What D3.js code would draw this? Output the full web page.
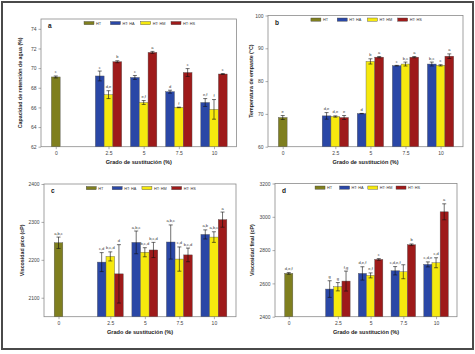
<!DOCTYPE html>
<html><head><meta charset="utf-8">
<script src="https://cdn.jsdelivr.net/npm/d3@7"></script>
<style>
html,body{margin:0;padding:0;background:#fff;}
svg{display:block;}
text{font-family:"Liberation Sans",Arial,sans-serif;}
</style></head>
<body><svg id="chart" width="475" height="354"></svg>
<script>
// ---- data ----
const groups = ["0", "2.5", "5", "7.5", "10"];
const seriesNames = ["HT", "HT: HA", "HT: HM", "HT: HS"];
const seriesColors = ["#7f7f1f", "#2a47a6", "#f6e90e", "#9e1a1a"];
const xTitle = "Grado de sustitución (%)";

// panel a: Capacidad de retención de agua (%)
const aTitle = "Capacidad de retención de agua (%)";
const aTicks = [62, 64, 66, 68, 70, 72, 74];
const aHT = [69.1], aHTErr = [0.1], aHTLet = ["c"];
const aHA = [69.2, 69.05, 67.6, 66.5], aHAErr = [0.5, 0.2, 0.15, 0.4], aHALet = ["c", "c", "d", "e,f"];
const aHM = [67.3, 66.5, 66.0, 65.8], aHMErr = [0.4, 0.2, 0.03, 1.0], aHMLet = ["d,e", "e,f", "f", "f"];
const aHS = [70.65, 71.6, 69.55, 69.4], aHSErr = [0.1, 0.1, 0.4, 0.05], aHSLet = ["b", "a", "c", "c"];

// panel b: Temperatura de empaste (°C)
const bTitle = "Temperatura de empaste (°C)";
const bTicks = [60, 70, 80, 90, 100];
const bHT = [68.9], bHTErr = [0.6], bHTLet = ["e"];
const bHA = [69.4, 70.1, 84.7, 85.2], bHAErr = [1.0, 0.05, 0.1, 0.6], bHALet = ["d,e", "d", "c", "b,c"];
const bHM = [69.2, 86.0, 85.2, 84.8], bHMErr = [0.2, 0.8, 0.6, 0.2], bHMLet = ["d,e", "b", "b,c", "c"];
const bHS = [68.9, 87.3, 87.3, 87.6], bHSErr = [0.6, 0.2, 0.2, 0.7], bHSLet = ["e", "a", "a", "a"];

// panel c: Viscosidad pico (cP)
const cTitle = "Viscosidad pico (cP)";
const cTicks = [2100, 2200, 2300, 2400];
const cHT = [2245], cHTErr = [15], cHTLet = ["a,b,c"];
const cHA = [2194, 2246, 2247, 2267], cHAErr = [25, 30, 45, 12], cHALet = ["c,d", "a,b,c", "a,b,c", "a,b"];
const cHM = [2209, 2220, 2202, 2260], cHMErr = [12, 12, 32, 14], cHMLet = ["b,c,d", "b,c,d", "c,d", "a,b,c"];
const cHS = [2163, 2226, 2213, 2306], cHSErr = [77, 20, 18, 20], cHSLet = ["d", "b,c,d", "b,c,d", "a"];

// panel d: Viscosidad final (cP)
const dTitle = "Viscosidad final (cP)";
const dTicks = [2400, 2600, 2800, 3000, 3200];
const dHT = [2660], dHTErr = [5], dHTLet = ["d,e,f"];
const dHA = [2566, 2660, 2676, 2714], dHAErr = [50, 40, 25, 15], dHALet = ["g", "d,e,f", "c,d,e,f", "c,d,e"];
const dHM = [2580, 2648, 2670, 2724], dHMErr = [25, 15, 42, 30], dHMLet = ["g", "e,f", "", "c,d"];
const dHS = [2614, 2744, 2832, 3030], dHSErr = [60, 5, 5, 48], dHSLet = ["f,g", "c", "b", "a"];

// ---- layout (positions only) ----
const panels = [
  {tag: "a", title: aTitle, ticks: aTicks, dom: [62, 75], box: [41, 19, 236.5, 146.7], ytx: 22,
   ht: [aHT, aHTErr, aHTLet], s: [[aHA, aHAErr, aHALet], [aHM, aHMErr, aHMLet], [aHS, aHSErr, aHSLet]]},
  {tag: "b", title: bTitle, ticks: bTicks, dom: [60, 100], box: [268, 15.5, 463, 146.7], ytx: 253,
   ht: [bHT, bHTErr, bHTLet], s: [[bHA, bHAErr, bHALet], [bHM, bHMErr, bHMLet], [bHS, bHSErr, bHSLet]]},
  {tag: "c", title: cTitle, ticks: cTicks, dom: [2050, 2400], box: [44, 184, 236, 316.7], ytx: 24,
   ht: [cHT, cHTErr, cHTLet], s: [[cHA, cHAErr, cHALet], [cHM, cHMErr, cHMLet], [cHS, cHSErr, cHSLet]]},
  {tag: "d", title: dTitle, ticks: dTicks, dom: [2400, 3200], box: [275, 183.5, 457, 316.7], ytx: 254,
   ht: [dHT, dHTErr, dHTLet], s: [[dHA, dHAErr, dHALet], [dHM, dHMErr, dHMLet], [dHS, dHSErr, dHSLet]]}
];
const groupPos = [0, 1.5, 2.5, 3.5, 4.5];
const barW = 0.25;

const svg = d3.select("#chart");
svg.append("rect").attr("x", 0).attr("y", 0).attr("width", 475).attr("height", 354).attr("fill", "#fff");
svg.append("rect").attr("x", 2).attr("y", 2).attr("width", 471).attr("height", 347)
  .attr("fill", "none").attr("stroke", "#4a4a4a").attr("stroke-width", 2);

panels.forEach(p => {
  const [x0, y0, x1, y1] = p.box;
  const x = d3.scaleLinear().domain([-0.42, 5.14]).range([x0, x1]);
  const y = d3.scaleLinear().domain(p.dom).range([y1, y0]);
  const g = svg.append("g");
  g.append("rect").attr("x", x0).attr("y", y0).attr("width", x1 - x0).attr("height", y1 - y0)
    .attr("fill", "#fff").attr("stroke", "#8a8a8a").attr("stroke-width", 0.8);

  // bars data
  const bars = [];
  bars.push({cx: x(groupPos[0]), v: p.ht[0][0], e: p.ht[1][0], l: p.ht[2][0], c: seriesColors[0]});
  for (let gi = 0; gi < 4; gi++) {
    for (let si = 0; si < 3; si++) {
      const off = (si - 1) * barW;
      bars.push({u: groupPos[gi + 1] + off, v: p.s[si][0][gi], e: p.s[si][1][gi], l: p.s[si][2][gi], c: seriesColors[si + 1]});
    }
  }
  bars.forEach(b => { if (b.u !== undefined) b.cx = x(b.u); });
  const bw = x(barW) - x(0);
  const base = p.dom[0];
  g.selectAll("rect.bar").data(bars).join("rect").attr("class", "bar")
    .attr("x", d => d.cx - bw / 2).attr("width", bw)
    .attr("y", d => y(d.v)).attr("height", d => y(base) - y(d.v))
    .attr("fill", d => d.c).attr("stroke", "#555").attr("stroke-width", 0.4);
  // error bars
  const eb = g.selectAll("g.eb").data(bars).join("g").attr("class", "eb")
    .attr("stroke", "#111").attr("stroke-width", 0.6);
  eb.append("line").attr("x1", d => d.cx).attr("x2", d => d.cx)
    .attr("y1", d => y(d.v - d.e)).attr("y2", d => y(d.v + d.e));
  eb.append("line").attr("x1", d => d.cx - 2).attr("x2", d => d.cx + 2)
    .attr("y1", d => y(d.v + d.e)).attr("y2", d => y(d.v + d.e));
  eb.append("line").attr("x1", d => d.cx - 2).attr("x2", d => d.cx + 2)
    .attr("y1", d => y(d.v - d.e)).attr("y2", d => y(d.v - d.e));
  g.selectAll("text.let").data(bars).join("text").attr("class", "let")
    .attr("x", d => d.cx).attr("y", d => y(d.v + d.e) - 2.5)
    .attr("text-anchor", "middle").attr("font-size", 4).attr("fill", "#333").text(d => d.l);

  // y axis
  const ya = d3.axisLeft(y).tickValues(p.ticks).tickSize(2.5).tickPadding(2).tickFormat(d3.format("d"));
  const yg = g.append("g").attr("transform", `translate(${x0},0)`).call(ya);
  yg.select(".domain").remove();
  yg.selectAll("line").attr("stroke", "#777").attr("stroke-width", 0.6);
  yg.selectAll("text").attr("font-size", 5).attr("fill", "#444").attr("font-family", "Liberation Sans, Arial, sans-serif");
  // x axis
  const xa = d3.axisBottom(x).tickValues(groupPos).tickSize(2.5).tickPadding(2).tickFormat((d, i) => groups[i]);
  const xg = g.append("g").attr("transform", `translate(0,${y1})`).call(xa);
  xg.select(".domain").remove();
  xg.selectAll("line").attr("stroke", "#777").attr("stroke-width", 0.6);
  xg.selectAll("text").attr("font-size", 5).attr("fill", "#444").attr("font-family", "Liberation Sans, Arial, sans-serif");

  // titles
  g.append("text").attr("x", (x0 + x1) / 2).attr("y", y1 + 17).attr("text-anchor", "middle")
    .attr("font-size", 5.6).attr("font-weight", "bold").attr("fill", "#222").text(xTitle);
  g.append("text").attr("transform", `translate(${p.ytx},${(y0 + y1) / 2}) rotate(-90)`)
    .attr("text-anchor", "middle").attr("font-size", 5.3).attr("font-weight", "bold").attr("fill", "#222").text(p.title);
  g.append("text").attr("x", x0 + 7).attr("y", y0 + 9).attr("font-size", 6.5).attr("font-weight", "bold")
    .attr("fill", "#222").text(p.tag);

  // legend
  const lf = [0.22, 0.355, 0.51, 0.665];
  seriesNames.forEach((n, i) => {
    const lx = x0 + lf[i] * (x1 - x0);
    g.append("rect").attr("x", lx).attr("y", y0 + 2.5).attr("width", 10).attr("height", 3.2)
      .attr("fill", seriesColors[i]).attr("stroke", "#444").attr("stroke-width", 0.4);
    g.append("text").attr("x", lx + 12).attr("y", y0 + 5.6).attr("font-size", 3.8).attr("fill", "#333").text(n);
  });
});
</script></body></html>
